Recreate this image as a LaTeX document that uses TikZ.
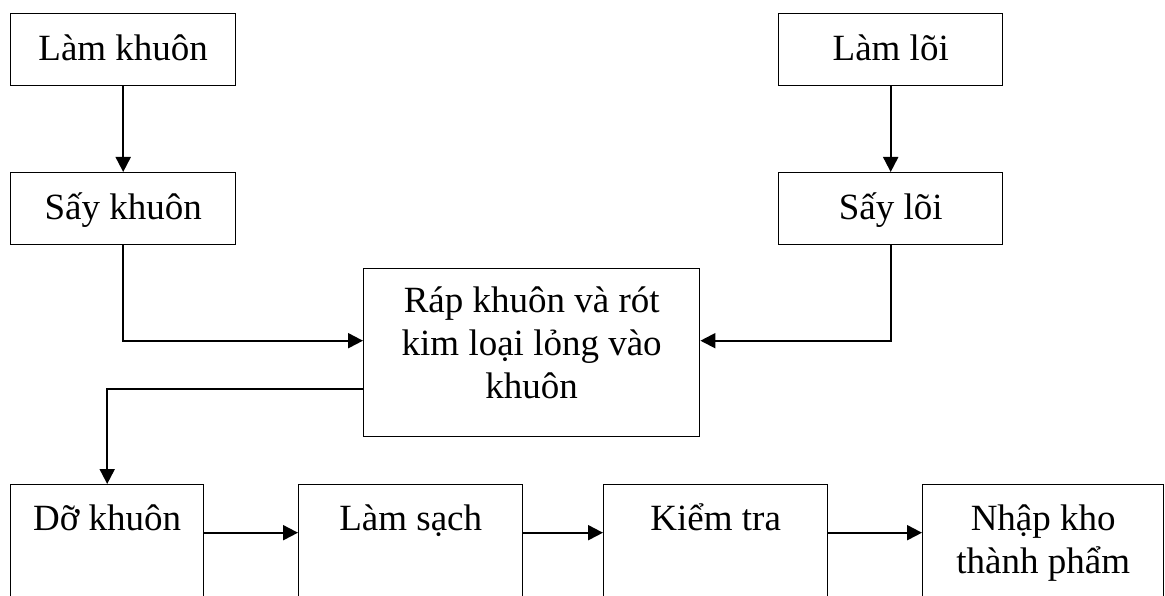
\documentclass[tikz,border=0pt]{standalone}
\usepackage{fontspec}
\setmainfont{Liberation Serif}
\usetikzlibrary{arrows.meta}
\begin{document}
\begin{tikzpicture}[x=1pt,y=-1pt,
  box/.style={draw, line width=1.4pt, inner xsep=0pt, inner ysep=0pt, anchor=north west, font=\fontsize{37}{43}\selectfont},
  toprow/.style={box, text height=47pt, text depth=25pt},
  lowrow/.style={box, text height=46pt, text depth=100pt},
  conn/.style={line width=2pt, -{Triangle[length=15pt,width=15pt]}}]
\useasboundingbox (0,0) rectangle (1165,596);
\clip (0,0) rectangle (1165,596);
\node[toprow, minimum width=225pt] (lk) at (10,13) {Làm khuôn};
\node[toprow, minimum width=225pt] (sk) at (10,172) {Sấy khuôn};
\node[toprow, minimum width=224pt] (ll) at (778,13) {Làm lõi};
\node[toprow, minimum width=224pt] (sl) at (778,172) {Sấy lõi};
\node[box, minimum width=336pt, text height=44pt, text depth=124pt] (c) at (363,268) {\parbox[t]{330pt}{\centering Ráp khuôn và rót\\kim loại lỏng vào\\khuôn}};
\node[lowrow, minimum width=193pt] (dk) at (10,484) {Dỡ khuôn};
\node[lowrow, minimum width=224pt] (ls) at (298,484) {Làm sạch};
\node[lowrow, minimum width=224pt] (kt) at (603,484) {Kiểm tra};
\node[lowrow, minimum width=241pt] (nk) at (922,484) {\parbox[t]{235pt}{\centering Nhập kho\\thành phẩm}};
\draw[conn] (lk) -- (sk);
\draw[conn] (ll) -- (sl);
\draw[conn] (sk.south) |- ([yshift=12pt]c.west);
\draw[conn] (sl.south) |- ([yshift=12pt]c.east);
\draw[conn] ([yshift=-36pt]c.west) -| (dk.north);
\draw[conn] ([yshift=25pt]dk.east) -- ([yshift=25pt]ls.west);
\draw[conn] ([yshift=25pt]ls.east) -- ([yshift=25pt]kt.west);
\draw[conn] ([yshift=25pt]kt.east) -- ([yshift=25pt]nk.west);
\end{tikzpicture}
\end{document}
